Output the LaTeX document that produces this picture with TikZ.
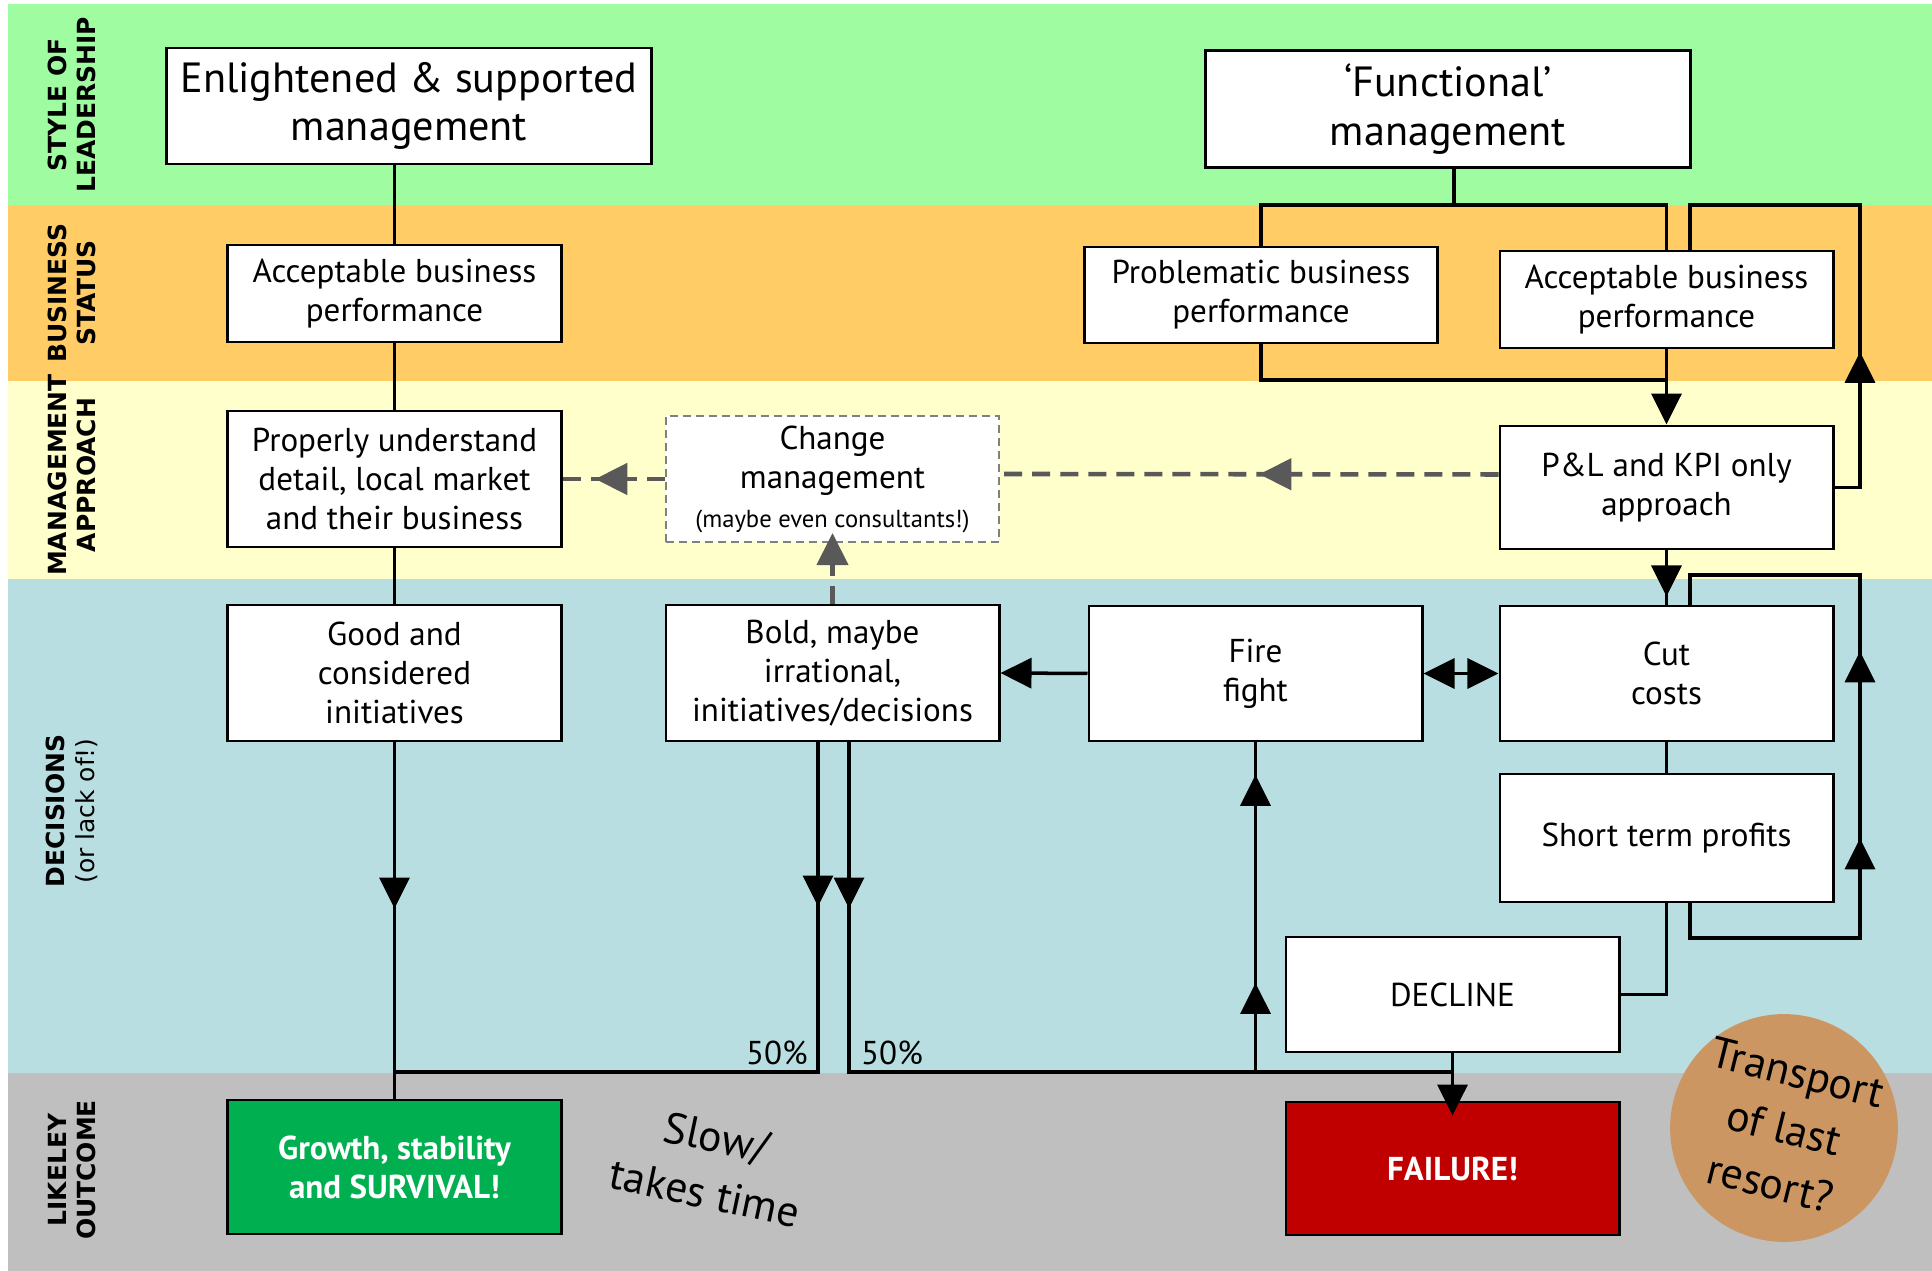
\documentclass[tikz,border=0pt]{standalone}
\usepackage{fontspec}
\setmainfont{PT Sans}
\newfontfamily\bandfam{DejaVu Sans}
\usepackage{tikz}
\usetikzlibrary{arrows.meta, decorations.markings}
\definecolor{bandgreen}{RGB}{160,252,160}
\definecolor{bandorange}{RGB}{255,204,102}
\definecolor{bandyellow}{RGB}{255,255,204}
\definecolor{bandblue}{RGB}{185,222,225}
\definecolor{bandgray}{RGB}{191,191,191}
\definecolor{goodgreen}{RGB}{0,176,80}
\definecolor{badred}{RGB}{192,0,0}
\definecolor{resorttan}{RGB}{204,150,98}
\definecolor{dgray}{RGB}{89,89,89}
\newcommand{\bxfont}{\fontsize{9.4}{11.1}\selectfont}
\newcommand{\ttlfont}{\fontsize{12}{13.7}\selectfont}
\newcommand{\tiltfont}{\fontsize{12.4}{16.2}\selectfont}
\newcommand{\bandfnt}{\bandfam\bfseries\fontsize{7.1}{8.4}\selectfont}
\tikzset{
	>={Triangle[width=3mm,length=3.1mm]},
	plainbox/.style={draw=black, line width=0.8pt, fill=white, minimum width=3.33cm, align=center, inner sep=2pt, font=\bxfont},
	headbox/.style={plainbox, minimum width=4.84cm, minimum height=1.16cm, font=\ttlfont},
	endbox/.style={plainbox, text=white, font=\bxfont\bfseries, minimum height=1.34cm},
	bandlabel/.style={rotate=90, align=center, font=\bandfnt},
	flow/.style={draw=black, line width=1pt},
	dflow/.style={draw=dgray, line width=1.3pt, dash pattern=on 1.8mm off 1mm},
	midarrow/.style={postaction={decorate, decoration={markings, mark=at position #1 with {\arrow{>}}}}},
	dmidarrow/.style={postaction={decorate, decoration={markings, mark=at position #1 with {\arrow[dgray]{Triangle[width=3.1mm,length=3.2mm]}}}}},
	pct/.style={font=\bxfont, inner sep=1pt},
}
\begin{document}
\begin{tikzpicture}[x=0.01cm, y=-0.01cm]
	\useasboundingbox (0,0) rectangle (1932,1271);
	% bands
	\fill[bandgreen] (8,4) rectangle (1932,205);
	\fill[bandorange] (8,205) rectangle (1932,381);
	\fill[bandyellow] (8,381) rectangle (1932,579);
	\fill[bandblue] (8,579) rectangle (1932,1073);
	\fill[bandgray] (8,1073) rectangle (1932,1271);
	\node[bandlabel] (L1) at (72,105) {STYLE OF\\LEADERSHIP};
	\node[bandlabel] (L2) at (72,293) {BUSINESS\\STATUS};
	\node[bandlabel] (L3) at (72,475) {MANAGEMENT\\APPROACH};
	\node[bandlabel] (L4) at (72,811) {DECISIONS\\{\mdseries (or lack of!)}};
	\node[bandlabel] (L5) at (72,1170) {LIKELEY\\OUTCOME};
	% boxes
	\node[headbox] (ENL) at (409,106) {Enlightened \& supported\\management};
	\node[headbox, minimum height=1.17cm] (FUN) at (1448,109) {‘Functional’\\management};
	\node[plainbox, minimum height=0.97cm] (ABP1) at (394.5,293.5) {Acceptable business\\performance};
	\node[plainbox, minimum width=3.52cm, minimum height=0.96cm] (PBP) at (1261,295) {Problematic business\\performance};
	\node[plainbox, minimum height=0.97cm] (ABP2) at (1666.5,299.5) {Acceptable business\\performance};
	\node[plainbox, minimum height=1.36cm] (PUD) at (394.5,479) {Properly understand\\detail, local market\\and their business};
	\node[plainbox, draw=gray, line width=0.6pt, dash pattern=on 0.8mm off 0.5mm, minimum height=1.26cm] (CHM) at (832.5,479) {Change\\management\\{\fontsize{7}{8.5}\selectfont (maybe even consultants!)}};
	\node[plainbox, minimum height=1.23cm] (PLK) at (1666.5,487.5) {P\&L and KPI only\\approach};
	\node[plainbox, minimum height=1.36cm] (GCI) at (394.5,673) {Good and\\considered\\initiatives};
	\node[plainbox, minimum height=1.36cm] (BMI) at (832.5,673) {Bold, maybe\\irrational,\\initiatives/decisions};
	\node[plainbox, minimum height=1.35cm] (FFT) at (1255.5,673.5) {Fire\\fight};
	\node[plainbox, minimum height=1.35cm] (CUT) at (1666.5,673.5) {Cut\\costs};
	\node[plainbox, minimum height=1.28cm] (STP) at (1666.5,838) {Short term profits};
	\node[plainbox, minimum height=1.15cm] (DEC) at (1452.5,994.5) {DECLINE};
	\node[endbox, fill=goodgreen] (GRO) at (394.5,1167) {Growth, stability\\and SURVIVAL!};
	\node[endbox, fill=badred, minimum height=1.33cm] (FAI) at (1452.5,1168.5) {FAILURE!};
	\node[circle, fill=resorttan, minimum size=2.22cm, inner sep=0pt, rotate=-14, align=center, font=\tiltfont] (TLR) at (1784,1128) {Transport\\of last\\resort?};
	\node[rotate=-12, align=center, font=\tiltfont] (SLOW) at (711,1165) {Slow/\\takes time};
	% junctions
	\coordinate (fsplit) at (1454,205);
	\coordinate (pjoin) at (1666.5,380);
	\coordinate (lowL) at (394.5,1072);
	\coordinate (lowR) at (1452.5,1072);
	\coordinate (loopA) at (1860,205);
	\coordinate (loopB) at (1860,575);
	\coordinate (loopC) at (1860,938);
	% left column
	\draw[flow]
		(ENL.south -| ABP1.north) edge (ABP1.north)
		(ABP1.south) edge (PUD.north)
		(PUD.south) edge (GCI.north)
		(GCI.south) edge[midarrow=1.66cm] (GRO.north)
	;
	\draw[flow, midarrow=1.64cm] ([xshift=-1.45mm]BMI.south) |- (lowL);
	\draw[flow, midarrow=1.66cm] ([xshift=1.65mm]BMI.south) |- (lowR);
	\node[pct, anchor=south east] (P1) at (812,1069) {50\%};
	\node[pct, anchor=south west] (P2) at (857,1069) {50\%};
	% right side
	\draw[flow] (FUN.south -| fsplit) -- (fsplit);
	\draw[flow] (PBP.north) |- (fsplit) -| (ABP2.north);
	\draw[flow] (PBP.south) |- (pjoin);
	\draw[flow, ->] (ABP2.south) -- (PLK.north);
	\draw[flow, midarrow=0.46cm] (PLK.south) -- (CUT.north);
	\draw[flow, midarrow=1.61cm] (PLK.east) -| (loopA) -| ([xshift=2.35mm]ABP2.north);
	\draw[flow, midarrow=3.04cm, midarrow=4.91cm] ([xshift=2.35mm]STP.south) |- (loopC) -- (loopB) -| ([xshift=2.35mm]CUT.north);
	\draw[flow]
		(CUT.south) edge (STP.north)
		(FFT.west) edge[->] (BMI.east)
		(FFT.east) edge[<->] (CUT.west)
	;
	\draw[flow] (STP.south) |- (DEC.east);
	\draw[flow, midarrow=0.89cm, midarrow=2.97cm] (FFT.south |- lowR) -- (FFT.south);
	\draw[flow, ->, shorten >=-1.5mm] (DEC.south) -- (FAI.north);
	% change management
	\draw[dflow, dmidarrow=0.48] ([yshift=1.3mm]PLK.west) -- ([yshift=0.5mm]CHM.east);
	\draw[dflow, dmidarrow=0.68] (CHM.west) -- (PUD.east);
	\draw[dflow, -{Triangle[width=3.1mm,length=3.2mm]}, shorten >=-1mm] (BMI.north) -- (CHM.south);
\end{tikzpicture}
\end{document}
